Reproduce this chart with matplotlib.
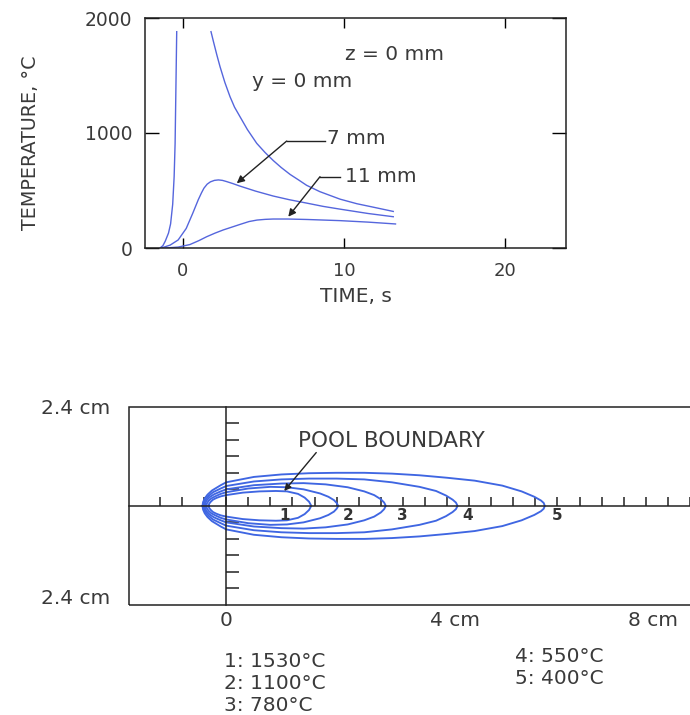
import numpy as np
import matplotlib
matplotlib.use("Agg")
import matplotlib.pyplot as plt
from matplotlib.patches import Rectangle

plt.rcParams['font.family'] = ['DejaVu Sans']

# ---------------- data: thermal cycles (top) ----------------
t_y0_heat = [-1.43, -1.25, -1.10, -0.90, -0.77, -0.64, -0.55, -0.49, -0.43, -0.39]
T_y0_heat = [0, 20, 60, 130, 210, 380, 620, 910, 1490, 1881]
t_y0_cool = [1.74, 1.9, 2.1, 2.3, 2.6, 2.92, 3.2, 3.54, 4.0, 4.58, 5.1, 5.61, 6.1, 6.65,
             7.2, 7.68, 8.5, 9.75, 10.8, 11.82, 13.06]
T_y0_cool = [1881, 1790, 1680, 1577, 1440, 1316, 1225, 1142, 1030, 910, 830, 760, 700, 640,
             590, 545, 490, 425, 385, 355, 318]
t_7mm = [-1.35, -0.8, -0.3, 0.2, 0.6, 0.95, 1.15, 1.3, 1.5, 1.7, 1.95, 2.2, 2.45, 2.7,
         3.1, 3.5, 4.5, 5.6, 6.6, 7.7, 8.7, 9.75, 11.5, 13.06]
T_7mm = [0, 25, 70, 170, 300, 420, 480, 520, 555, 575, 588, 592, 588, 578,
         560, 540, 495, 452, 420, 390, 362, 338, 300, 272]
t_11mm = [-1.12, -0.3, 0.43, 1.0, 1.47, 2.0, 2.5, 3.0, 3.54, 4.1, 4.6, 5.1, 5.6, 6.5,
          7.7, 9.75, 11.5, 13.2]
T_11mm = [0, 8, 30, 65, 98, 130, 157, 180, 205, 230, 243, 249, 252, 252,
          248, 238, 225, 209]

xticks_top = [0, 10, 20]
yticks_top = [0, 1000, 2000]

# ---------------- data: isotherms (bottom), upper halves ----------------
iso_x = {
    1: [-0.32, -0.31, -0.28, -0.24, -0.18, -0.10, 0.0, 0.3, 0.6, 0.9, 1.1, 1.3, 1.42, 1.50, 1.54],
    2: [-0.36, -0.35, -0.32, -0.27, -0.20, -0.10, 0.0, 0.4, 0.8, 1.1, 1.4, 1.7, 1.85, 1.95, 2.0, 2.03],
    3: [-0.39, -0.38, -0.35, -0.30, -0.22, -0.10, 0.0, 0.5, 1.0, 1.4, 1.8, 2.2, 2.5, 2.68, 2.8, 2.86, 2.89],
    4: [-0.41, -0.40, -0.37, -0.32, -0.24, -0.10, 0.0, 0.5, 1.0, 1.5, 2.0, 2.5, 3.0, 3.5, 3.8,
        3.98, 4.10, 4.16, 4.19],
    5: [-0.43, -0.42, -0.39, -0.34, -0.26, -0.10, 0.0, 0.5, 1.0, 1.5, 2.0, 2.5, 3.0, 3.5, 4.0,
        4.5, 5.0, 5.35, 5.58, 5.70, 5.75, 5.77],
}
iso_y = {
    1: [0, 0.05, 0.10, 0.15, 0.19, 0.23, 0.26, 0.32, 0.35, 0.36, 0.35, 0.29, 0.20, 0.10, 0],
    2: [0, 0.06, 0.12, 0.18, 0.23, 0.29, 0.33, 0.42, 0.46, 0.45, 0.40, 0.30, 0.22, 0.14, 0.07, 0],
    3: [0, 0.07, 0.14, 0.21, 0.28, 0.35, 0.40, 0.50, 0.54, 0.55, 0.52, 0.45, 0.35, 0.26, 0.16, 0.08, 0],
    4: [0, 0.08, 0.16, 0.24, 0.33, 0.42, 0.48, 0.59, 0.64, 0.66, 0.66, 0.64, 0.57, 0.46, 0.36,
        0.25, 0.15, 0.08, 0],
    5: [0, 0.09, 0.18, 0.27, 0.37, 0.50, 0.57, 0.70, 0.76, 0.79, 0.80, 0.80, 0.78, 0.74, 0.68,
        0.61, 0.49, 0.35, 0.22, 0.13, 0.07, 0],
}
iso_labels = ['1', '2', '3', '4', '5']
iso_label_x = [1.05, 2.2, 3.19, 4.37, 6.0]
iso_temps = ['1: 1530°C', '2: 1100°C', '3: 780°C', '4: 550°C', '5: 400°C']
bottom_xticks = [0, 4, 8]
bottom_xticklabels = ['0', '4 cm', '8 cm']

TXT = '#3a3a3a'
LINE_TOP = '#5566dd'
LINE_BOT = '#3f66e2'

fig = plt.figure(figsize=(6.9, 7.15), dpi=100)

# ================= top chart =================
ax = fig.add_axes([145/690, 1-248/715, 421/690, 230/715])
ax.plot(t_y0_heat, T_y0_heat, color=LINE_TOP, lw=1.0)
ax.plot(t_y0_cool, T_y0_cool, color=LINE_TOP, lw=1.0)
ax.plot(t_7mm, T_7mm, color=LINE_TOP, lw=1.0)
ax.plot(t_11mm, T_11mm, color=LINE_TOP, lw=1.0)
ax.set_xlim(-2.36, 23.79)
ax.set_ylim(0, 2000)
ax.set_xticks(xticks_top)
ax.set_yticks(yticks_top)
ax.tick_params(axis='x', direction='in', top=True, length=7, width=1, pad=10,
               labelsize=13, labelcolor=TXT)
ax.tick_params(axis='y', direction='in', right=True, length=10, width=1, pad=9,
               labelsize=13.5, labelcolor=TXT)
for s in ax.spines.values():
    s.set_linewidth(1.1)
    s.set_color('#222222')
ax.set_xlabel('TIME, s', fontsize=14.5, color=TXT)
ax.xaxis.set_label_coords(0.5, -0.209)
ax.xaxis.label.set_verticalalignment('center')
ax.set_ylabel('TEMPERATURE, °C', fontsize=13.8, color=TXT)
ax.yaxis.set_label_coords(-0.273, 0.457)
ax.yaxis.label.set_verticalalignment('center')

ax.text(13.13, 1686, 'z = 0 mm', fontsize=14.5, color=TXT, ha='center', va='center')
ax.text(7.42, 1452, 'y = 0 mm', fontsize=14.5, color=TXT, ha='center', va='center')
ax.text(8.94, 955, '7 mm', fontsize=14.5, color=TXT, ha='left', va='center')
ax.text(10.06, 625, '11 mm', fontsize=14.5, color=TXT, ha='left', va='center')
arrow_kw = dict(arrowstyle='-|>', color='#222222', lw=1.0, mutation_scale=11,
                shrinkA=0, shrinkB=0)
ax.plot([8.82, 6.44], [930, 930], color='#222222', lw=1.0)
ax.annotate('', xy=(3.34, 563), xytext=(6.44, 930), arrowprops=arrow_kw)
ax.plot([9.75, 8.51], [620, 620], color='#222222', lw=1.0)
ax.annotate('', xy=(6.54, 272), xytext=(8.51, 620), arrowprops=arrow_kw)

# ================= bottom chart =================
bx = fig.add_axes([129.3/690, 1-605/715, 1-129.3/690, 198.3/715])
for k in sorted(iso_x):
    xs = np.array(iso_x[k])
    ys = np.array(iso_y[k])
    xx = np.concatenate([xs, xs[::-1]])
    yy = np.concatenate([ys, -ys[::-1]])
    bx.plot(xx, yy, color=LINE_BOT, lw=1.35, solid_joinstyle='round')
for xl, lab in zip(iso_label_x, iso_labels):
    bx.text(xl, -0.23, lab, fontsize=11, fontweight='bold', color='#333333',
            ha='center', va='center')

bx.set_xlim(-1.756, 8.29)
bx.set_ylim(-2.4, 2.4)
bx.spines['left'].set_position(('data', 0))
bx.spines['bottom'].set_position(('data', 0))
bx.spines['right'].set_visible(False)
bx.spines['top'].set_visible(False)
for s in ('left', 'bottom'):
    bx.spines[s].set_linewidth(1.1)
    bx.spines[s].set_color('#222222')
bx.set_xticks(np.round(np.arange(-1.2, 8.41, 0.4), 2))
bx.set_yticks([-2.0, -1.6, -1.2, -0.8, -0.4, 0.4, 0.8, 1.2, 1.6, 2.0])
bx.tick_params(axis='x', direction='in', length=6.5, width=1.1, color='#222222',
               labelbottom=False)
bx.tick_params(axis='y', direction='in', length=9.5, width=1.1, color='#222222',
               labelleft=False)
bx.add_patch(Rectangle((0, 0), 1.2, 1, transform=bx.transAxes, fill=False,
                       edgecolor='#222222', lw=1.1, clip_on=False))

# y labels (box edges)
ytrans = bx.get_yaxis_transform()
bx.annotate('2.4 cm', xy=(0, 2.4), xycoords=ytrans, xytext=(-14, -1),
            textcoords='offset points', ha='right', va='center', fontsize=14.5, color=TXT)
bx.annotate('2.4 cm', xy=(0, -2.4), xycoords=ytrans, xytext=(-14, 5),
            textcoords='offset points', ha='right', va='center', fontsize=14.5, color=TXT)
# x labels
xtrans = bx.get_xaxis_transform()
for xt, lab, dx in zip(bottom_xticks, bottom_xticklabels, [0, 6, -11]):
    bx.annotate(lab, xy=(xt, 0), xycoords=xtrans, xytext=(dx, -11),
                textcoords='offset points', ha='center', va='center',
                fontsize=14.5, color=TXT)

bx.text(3.0, 1.57, 'POOL BOUNDARY', fontsize=15.5, color=TXT, ha='center', va='center')
bx.annotate('', xy=(1.05, 0.36), xytext=(1.63, 1.29),
            arrowprops=dict(arrowstyle='-|>', color='#222222', lw=1.0,
                            mutation_scale=10, shrinkA=0, shrinkB=0))

# temperature key
for i, s in enumerate(iso_temps[:3]):
    fig.text(224/690, 1-(661.7+21.7*i)/715, s, fontsize=14.5, color=TXT,
             ha='left', va='center')
for i, s in enumerate(iso_temps[3:]):
    fig.text(515/690, 1-(656.7+21.7*i)/715, s, fontsize=14.5, color=TXT,
             ha='left', va='center')

fig.savefig('out.png', dpi=100)
